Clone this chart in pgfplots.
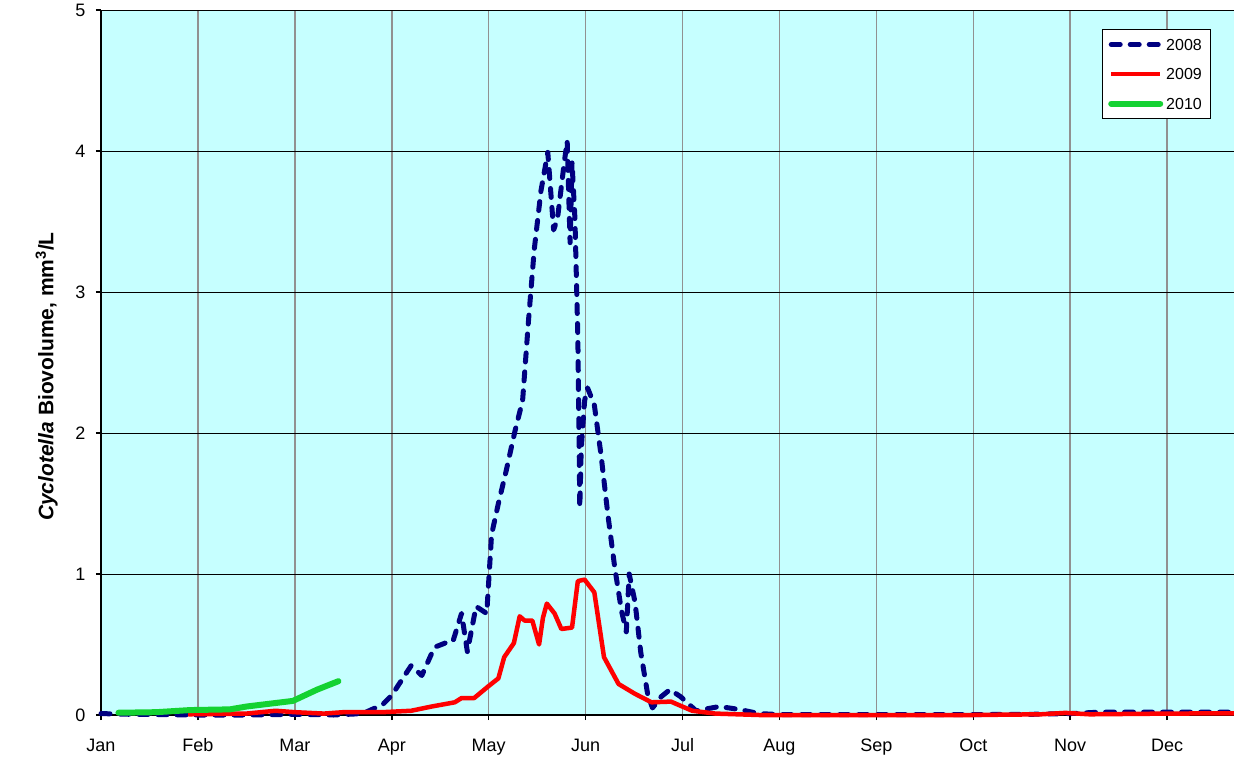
\documentclass[border=0pt]{standalone}
\usepackage{fontspec}
\setmainfont{Liberation Sans}
\usepackage{pgfplots}
\pgfplotsset{compat=1.18}
\definecolor{bgcyan}{RGB}{198,255,255}
\definecolor{navyline}{RGB}{0,0,128}
\definecolor{redline}{RGB}{255,0,0}
\definecolor{greenline}{RGB}{20,210,50}
\definecolor{gridgray}{RGB}{145,145,145}
\begin{document}
\begin{tikzpicture}
\useasboundingbox (-101pt,-46pt) rectangle (1133pt,715pt);
\begin{axis}[
  scale only axis,
  width=1133pt, height=705pt,
  xmin=0, xmax=11.69, ymin=0, ymax=5,
  axis lines*=left,
  clip=false,
  axis background/.style={fill=bgcyan},
  xtick={0,1,2,3,4,5,6,7,8,9,10,11},
  xticklabels={Jan,Feb,Mar,Apr,May,Jun,Jul,Aug,Sep,Oct,Nov,Dec},
  ytick={0,1,2,3,4,5},
  /pgf/number format/assume math mode=true,
  ticklabel style={font=\fontsize{18}{21}\selectfont},
  xticklabel style={yshift=-15pt, text height=13pt, text depth=4pt},
  yticklabel style={xshift=-7pt},
  tick align=outside,
  major tick length=5pt,
  tick style={black, line width=1.5pt},
  xmajorgrids, ymajorgrids,
  x grid style={draw=gridgray, line width=1.5pt},
  y grid style={draw=black, line width=1pt},
  x axis line style={line width=2pt},
  y axis line style={line width=2.5pt},
  ylabel={\textit{Cyclotella} Biovolume, mm\textsuperscript{3}/L},
  ylabel style={font=\fontsize{21}{25}\selectfont\bfseries, at={(axis description cs:-0.048,0.48)}, anchor=center},
  legend style={at={(axis description cs:0.980,0.9726)}, anchor=north east,
    draw=black, line width=1pt, fill=white, inner xsep=6pt, inner ysep=6pt,
    row sep=12pt, font=\fontsize{16}{19}\selectfont,
    nodes={inner sep=3pt, text height=11.5pt, text depth=0pt}},
  legend cell align=left,
  legend image code/.code={\draw[#1] (2pt,0pt) -- (51pt,0pt);},
]
\addplot[navyline, line width=5pt, line cap=round, line join=round, dash pattern=on 9pt off 10pt] coordinates {
(0,0.01) (0.3,0.005) (1,0.0) (1.5,0.0) (2,0.005) (2.4,0.0) (2.7,0.01) (2.83,0.05) (2.9,0.07) (3.0,0.14) (3.2,0.35)
(3.31,0.28) (3.44,0.48) (3.55,0.51) (3.63,0.52) (3.72,0.72) (3.78,0.45) (3.87,0.77) (3.98,0.72) (4.03,1.28)
(4.10,1.50) (4.18,1.73) (4.27,2.01) (4.35,2.23) (4.41,2.79) (4.47,3.30) (4.54,3.72) (4.61,3.99) (4.67,3.44)
(4.71,3.52) (4.78,3.92) (4.81,4.07) (4.84,3.35) (4.86,3.92) (4.89,3.52) (4.90,3.24) (4.92,2.68) (4.93,2.12)
(4.94,1.47) (4.955,1.89) (4.99,2.23) (5.02,2.32) (5.09,2.20) (5.16,1.84) (5.23,1.42) (5.30,1.05) (5.37,0.74)
(5.42,0.59) (5.45,1.00) (5.51,0.80) (5.57,0.44) (5.64,0.15) (5.69,0.05) (5.78,0.13) (5.87,0.18) (5.98,0.13)
(6.14,0.03) (6.38,0.06) (6.58,0.04) (6.79,0.01) (7,0.003) (8,0.003) (9,0.003) (9.6,0.005) (10,0.01) (10.3,0.02)
(11,0.02) (11.69,0.02)
};
\addlegendentry{2008}
\addplot[redline, line width=4.5pt, line join=round] coordinates {
(0.9,0.005) (1.5,0.01) (1.8,0.03) (2.0,0.02) (2.3,0.01) (2.5,0.02) (2.9,0.02) (3.2,0.03) (3.41,0.06) (3.65,0.09)
(3.72,0.12) (3.85,0.12) (3.99,0.20) (4.10,0.26) (4.16,0.41) (4.26,0.51) (4.32,0.70) (4.37,0.67) (4.45,0.67)
(4.52,0.50) (4.56,0.69) (4.60,0.79) (4.68,0.72) (4.75,0.61) (4.86,0.62) (4.92,0.95) (4.99,0.96) (5.09,0.87)
(5.19,0.41) (5.34,0.22) (5.51,0.15) (5.68,0.09) (5.88,0.095) (6.10,0.03) (6.34,0.01) (6.79,0.0) (7,0.0) (8,0.0)
(9,0.0) (9.7,0.005) (9.95,0.015) (10.2,0.005) (11,0.01) (11.69,0.012)
};
\addlegendentry{2009}
\addplot[greenline, line width=6pt, line cap=round, line join=round] coordinates {
(0.18,0.016) (0.57,0.02) (0.92,0.035) (1.33,0.04) (1.50,0.06) (1.98,0.10) (2.23,0.18) (2.45,0.24)
};
\addlegendentry{2010}
\end{axis}
\end{tikzpicture}
\end{document}
